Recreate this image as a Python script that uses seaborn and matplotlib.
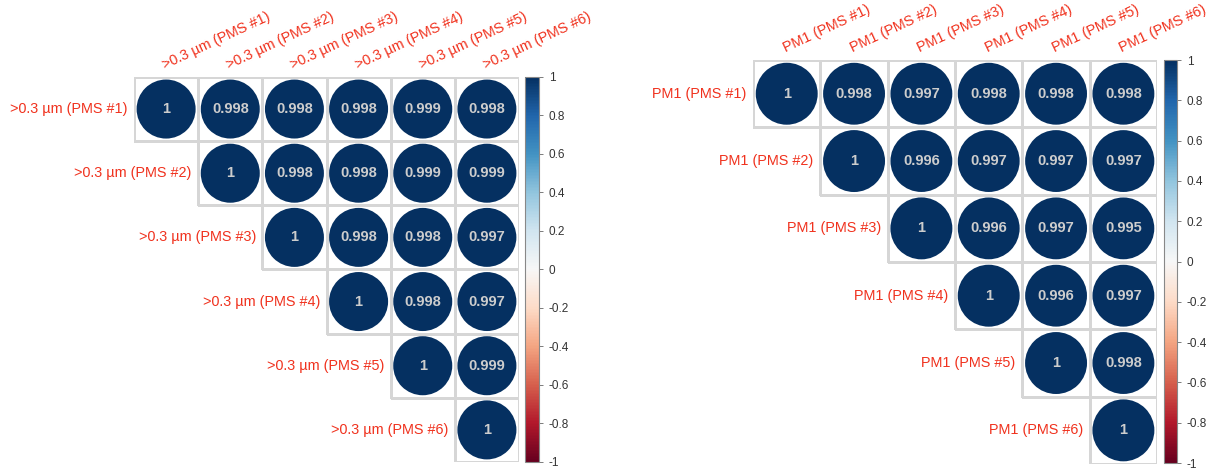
import numpy as np
import matplotlib
matplotlib.use("Agg")
import matplotlib.pyplot as plt
from matplotlib.colors import ListedColormap, Normalize
from matplotlib.cm import ScalarMappable
from matplotlib.patches import Circle
import seaborn as sns

sns.set_theme(style="white")
plt.rcParams["font.family"] = ["Liberation Sans", "DejaVu Sans"]

# Variable names for each panel
labels_count = [">0.3 µm (PMS #1)", ">0.3 µm (PMS #2)", ">0.3 µm (PMS #3)",
                ">0.3 µm (PMS #4)", ">0.3 µm (PMS #5)", ">0.3 µm (PMS #6)"]
labels_pm1 = ["PM1 (PMS #1)", "PM1 (PMS #2)", "PM1 (PMS #3)",
              "PM1 (PMS #4)", "PM1 (PMS #5)", "PM1 (PMS #6)"]

# Upper-triangle correlation coefficients, one list per row (diagonal first)
corr_count_rows = [
    [1, 0.998, 0.998, 0.998, 0.999, 0.998],
    [1, 0.998, 0.998, 0.999, 0.999],
    [1, 0.998, 0.998, 0.997],
    [1, 0.998, 0.997],
    [1, 0.999],
    [1],
]
corr_pm1_rows = [
    [1, 0.998, 0.997, 0.998, 0.998, 0.998],
    [1, 0.996, 0.997, 0.997, 0.997],
    [1, 0.996, 0.997, 0.995],
    [1, 0.996, 0.997],
    [1, 0.998],
    [1],
]

cbar_ticks = [1, 0.8, 0.6, 0.4, 0.2, 0, -0.2, -0.4, -0.6, -0.8, -1]

LABEL_RED = "#f0321e"
GRID_GREY = "#d6d6d6"
norm = Normalize(vmin=-1, vmax=1)
cmap = plt.get_cmap("RdBu")


def full_matrix(rows):
    n = len(rows)
    m = np.full((n, n), np.nan)
    for i, r in enumerate(rows):
        for k, v in enumerate(r):
            m[i, i + k] = v
            m[i + k, i] = v
    return m


def corr_panel(fig, ax_rect, cax_rect, rows, labels):
    mat = full_matrix(rows)
    n = len(labels)
    mask = np.tril(np.ones((n, n), dtype=bool), k=-1)
    ax = fig.add_axes(ax_rect)
    cax = fig.add_axes(cax_rect)
    sns.heatmap(mat, mask=mask, ax=ax, cmap=ListedColormap(["white"]),
                cbar=False, linewidths=0.8, linecolor=GRID_GREY,
                xticklabels=False, yticklabels=False)
    # hide the cell borders of the masked lower triangle
    mesh = ax.collections[0]
    edge = np.array([(0, 0, 0, 0) if m else matplotlib.colors.to_rgba(GRID_GREY)
                     for m in mask.ravel()])
    mesh.set_edgecolor(edge)
    ax.set_xlim(0, n)
    ax.set_ylim(n, 0)
    for i in range(n):
        for j in range(i, n):
            v = mat[i, j]
            ax.add_patch(Circle((j + 0.5, i + 0.5), 0.46 * np.sqrt(abs(v)),
                                facecolor=cmap(norm(v)), edgecolor="none", zorder=3))
            ax.text(j + 0.5, i + 0.5, f"{v:g}", ha="center", va="center",
                    color="#cdcdcd", fontsize=10.5, fontweight="bold", zorder=4)
    for i, lab in enumerate(labels):
        ax.text(i - 0.1, i + 0.5, lab, ha="right", va="center",
                color=LABEL_RED, fontsize=10.4)
        ax.text(i + 0.5, -0.08, lab, ha="left", va="bottom", rotation=25,
                rotation_mode="anchor", color=LABEL_RED, fontsize=10.4)
    for s in ax.spines.values():
        s.set_visible(False)

    cb = fig.colorbar(ScalarMappable(norm=norm, cmap=cmap), cax=cax)
    cb.set_ticks(cbar_ticks)
    cb.set_ticklabels([f"{t:g}" for t in cbar_ticks])
    cb.outline.set_edgecolor("#888888")
    cb.outline.set_linewidth(0.8)
    cax.tick_params(axis="y", length=3, width=0.6, color="#666666",
                    labelsize=8.5, labelcolor="#333333", pad=4, right=True)
    return ax


fig = plt.figure(figsize=(12.14, 4.73), dpi=100)
corr_panel(fig, [0.1104, 0.0233, 0.3171, 0.814], [0.4325, 0.0233, 0.0115, 0.814],
           corr_count_rows, labels_count)
corr_panel(fig, [0.6203, 0.019, 0.3328, 0.854], [0.9588, 0.021, 0.0107, 0.852],
           corr_pm1_rows, labels_pm1)
fig.savefig("out.png", dpi=100)
